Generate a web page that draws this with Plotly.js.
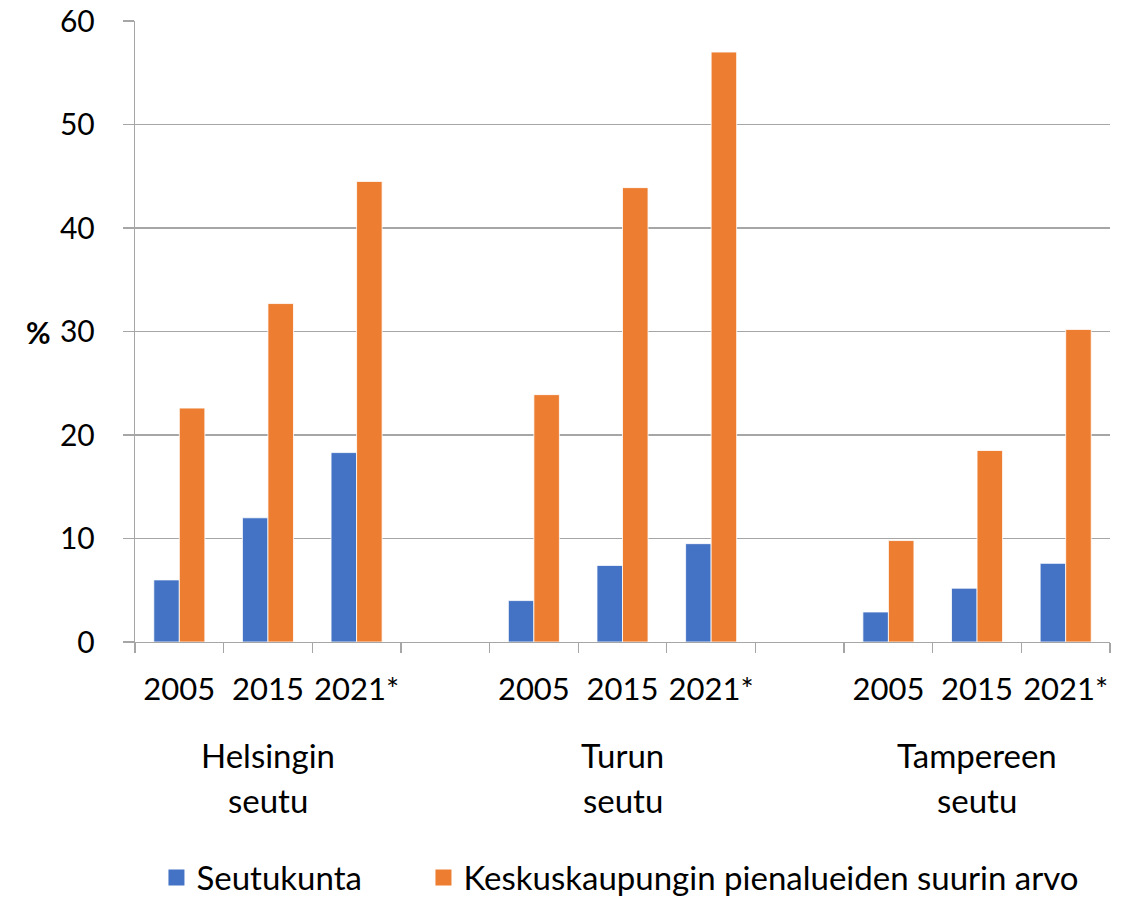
<!DOCTYPE html>
<html>
<head>
<meta charset="utf-8">
<script src="https://cdn.plot.ly/plotly-3.0.1.min.js"></script>
<style>html,body{margin:0;padding:0;background:#fff;}#chart{width:1142px;height:900px;}</style>
</head>
<body>
<div id="chart"></div>
<script>
// ---- data ----
const groups = ['Helsingin seutu', 'Turun seutu', 'Tampereen seutu'];
const years = ['2005', '2015', '2021*'];
const seriesNames = ['Seutukunta', 'Keskuskaupungin pienalueiden suurin arvo'];
const seutukunta = [
  [6.0, 12.0, 18.3],
  [4.0, 7.4, 9.5],
  [2.9, 5.2, 7.6]
];
const keskuskaupunki = [
  [22.6, 32.7, 44.5],
  [23.9, 43.9, 57.0],
  [9.8, 18.5, 30.2]
];
const colors = ['#4472C4', '#ED7D31'];

// ---- build positions (one empty slot between groups) ----
const slotsPerGroup = years.length + 1;
const xs = [], labels = [];
groups.forEach((g, gi) => years.forEach((y, yi) => { xs.push(gi * slotsPerGroup + yi); labels.push(y); }));
const flat = arr => arr.reduce((a, b) => a.concat(b), []);
const nSlots = groups.length * slotsPerGroup - 1;

const FONT = 'Lato, "Open Sans", sans-serif';
const GRAY = '#a6a6a6';
const legendIds = ['legend', 'legend2'];

const traces = [seutukunta, keskuskaupunki].map((vals, i) => ({
  type: 'bar', x: xs, y: flat(vals), name: seriesNames[i],
  marker: {color: colors[i], line: {color: '#ffffff', width: 0.8}},
  showlegend: false, hoverinfo: 'y'
}));
// legend proxies
seriesNames.forEach((n, i) => traces.push({
  type: 'scatter', mode: 'markers', x: [null], y: [null], name: n,
  marker: {symbol: 'square', size: 20, color: colors[i]}, showlegend: true,
  legend: legendIds[i]
}));

const annotations = [];
groups.forEach((g, gi) => {
  const parts = g.split(' ');
  parts.forEach((p, li) => annotations.push({
    text: p, xref: 'x', yref: 'paper', x: gi * slotsPerGroup + 1,
    y: -0.182 - li * 0.0725, yanchor: 'middle', xanchor: 'center', showarrow: false,
    font: {family: FONT, size: 33, color: '#000'}
  }));
});
annotations.push({
  text: '<b>%</b>', xref: 'paper', yref: 'paper', x: -0.0985, y: 0.5,
  xanchor: 'center', yanchor: 'middle', showarrow: false,
  font: {family: FONT, size: 30, color: '#000'}
});

const legendBase = {
  orientation: 'h', xref: 'container', yref: 'container', xanchor: 'left',
  y: 0.025, yanchor: 'middle', itemclick: false,
  font: {family: FONT, size: 33, color: '#000'}, bgcolor: 'rgba(0,0,0,0)'
};

const layout = {
  width: 1142, height: 900,
  margin: {l: 135, r: 32, t: 21, b: 258},
  paper_bgcolor: '#fff', plot_bgcolor: '#fff',
  font: {family: FONT, size: 30, color: '#000'},
  barmode: 'group', bargap: 0.424, bargroupgap: 0,
  xaxis: {
    range: [-0.5, nSlots - 0.5], tickmode: 'array', tickvals: xs, ticktext: labels,
    showline: true, linecolor: GRAY, linewidth: 1.3, showgrid: false, zeroline: false,
    ticks: '', ticklabelstandoff: 19, automargin: false,
    minor: {tickmode: 'linear', tick0: -0.5, dtick: 1, ticks: 'outside', ticklen: 10, tickcolor: GRAY, tickwidth: 1.3, showgrid: false},
    tickfont: {family: FONT, size: 31, color: '#000'}, fixedrange: true
  },
  yaxis: {
    range: [0, 60], dtick: 10, tick0: 0,
    showline: true, linecolor: GRAY, linewidth: 1.3,
    showgrid: true, gridcolor: GRAY, gridwidth: 1.3, zeroline: false,
    ticks: 'outside', ticklen: 11, tickcolor: GRAY, tickwidth: 1.3,
    ticklabelstandoff: 22, automargin: false,
    tickfont: {family: FONT, size: 30, color: '#000'}, fixedrange: true
  },
  showlegend: true,
  legend: Object.assign({}, legendBase, {x: 0.1370}),
  legend2: Object.assign({}, legendBase, {x: 0.3708}),
  annotations: annotations
};

Plotly.newPlot('chart', traces, layout, {displayModeBar: false, staticPlot: true});
</script>
</body>
</html>
